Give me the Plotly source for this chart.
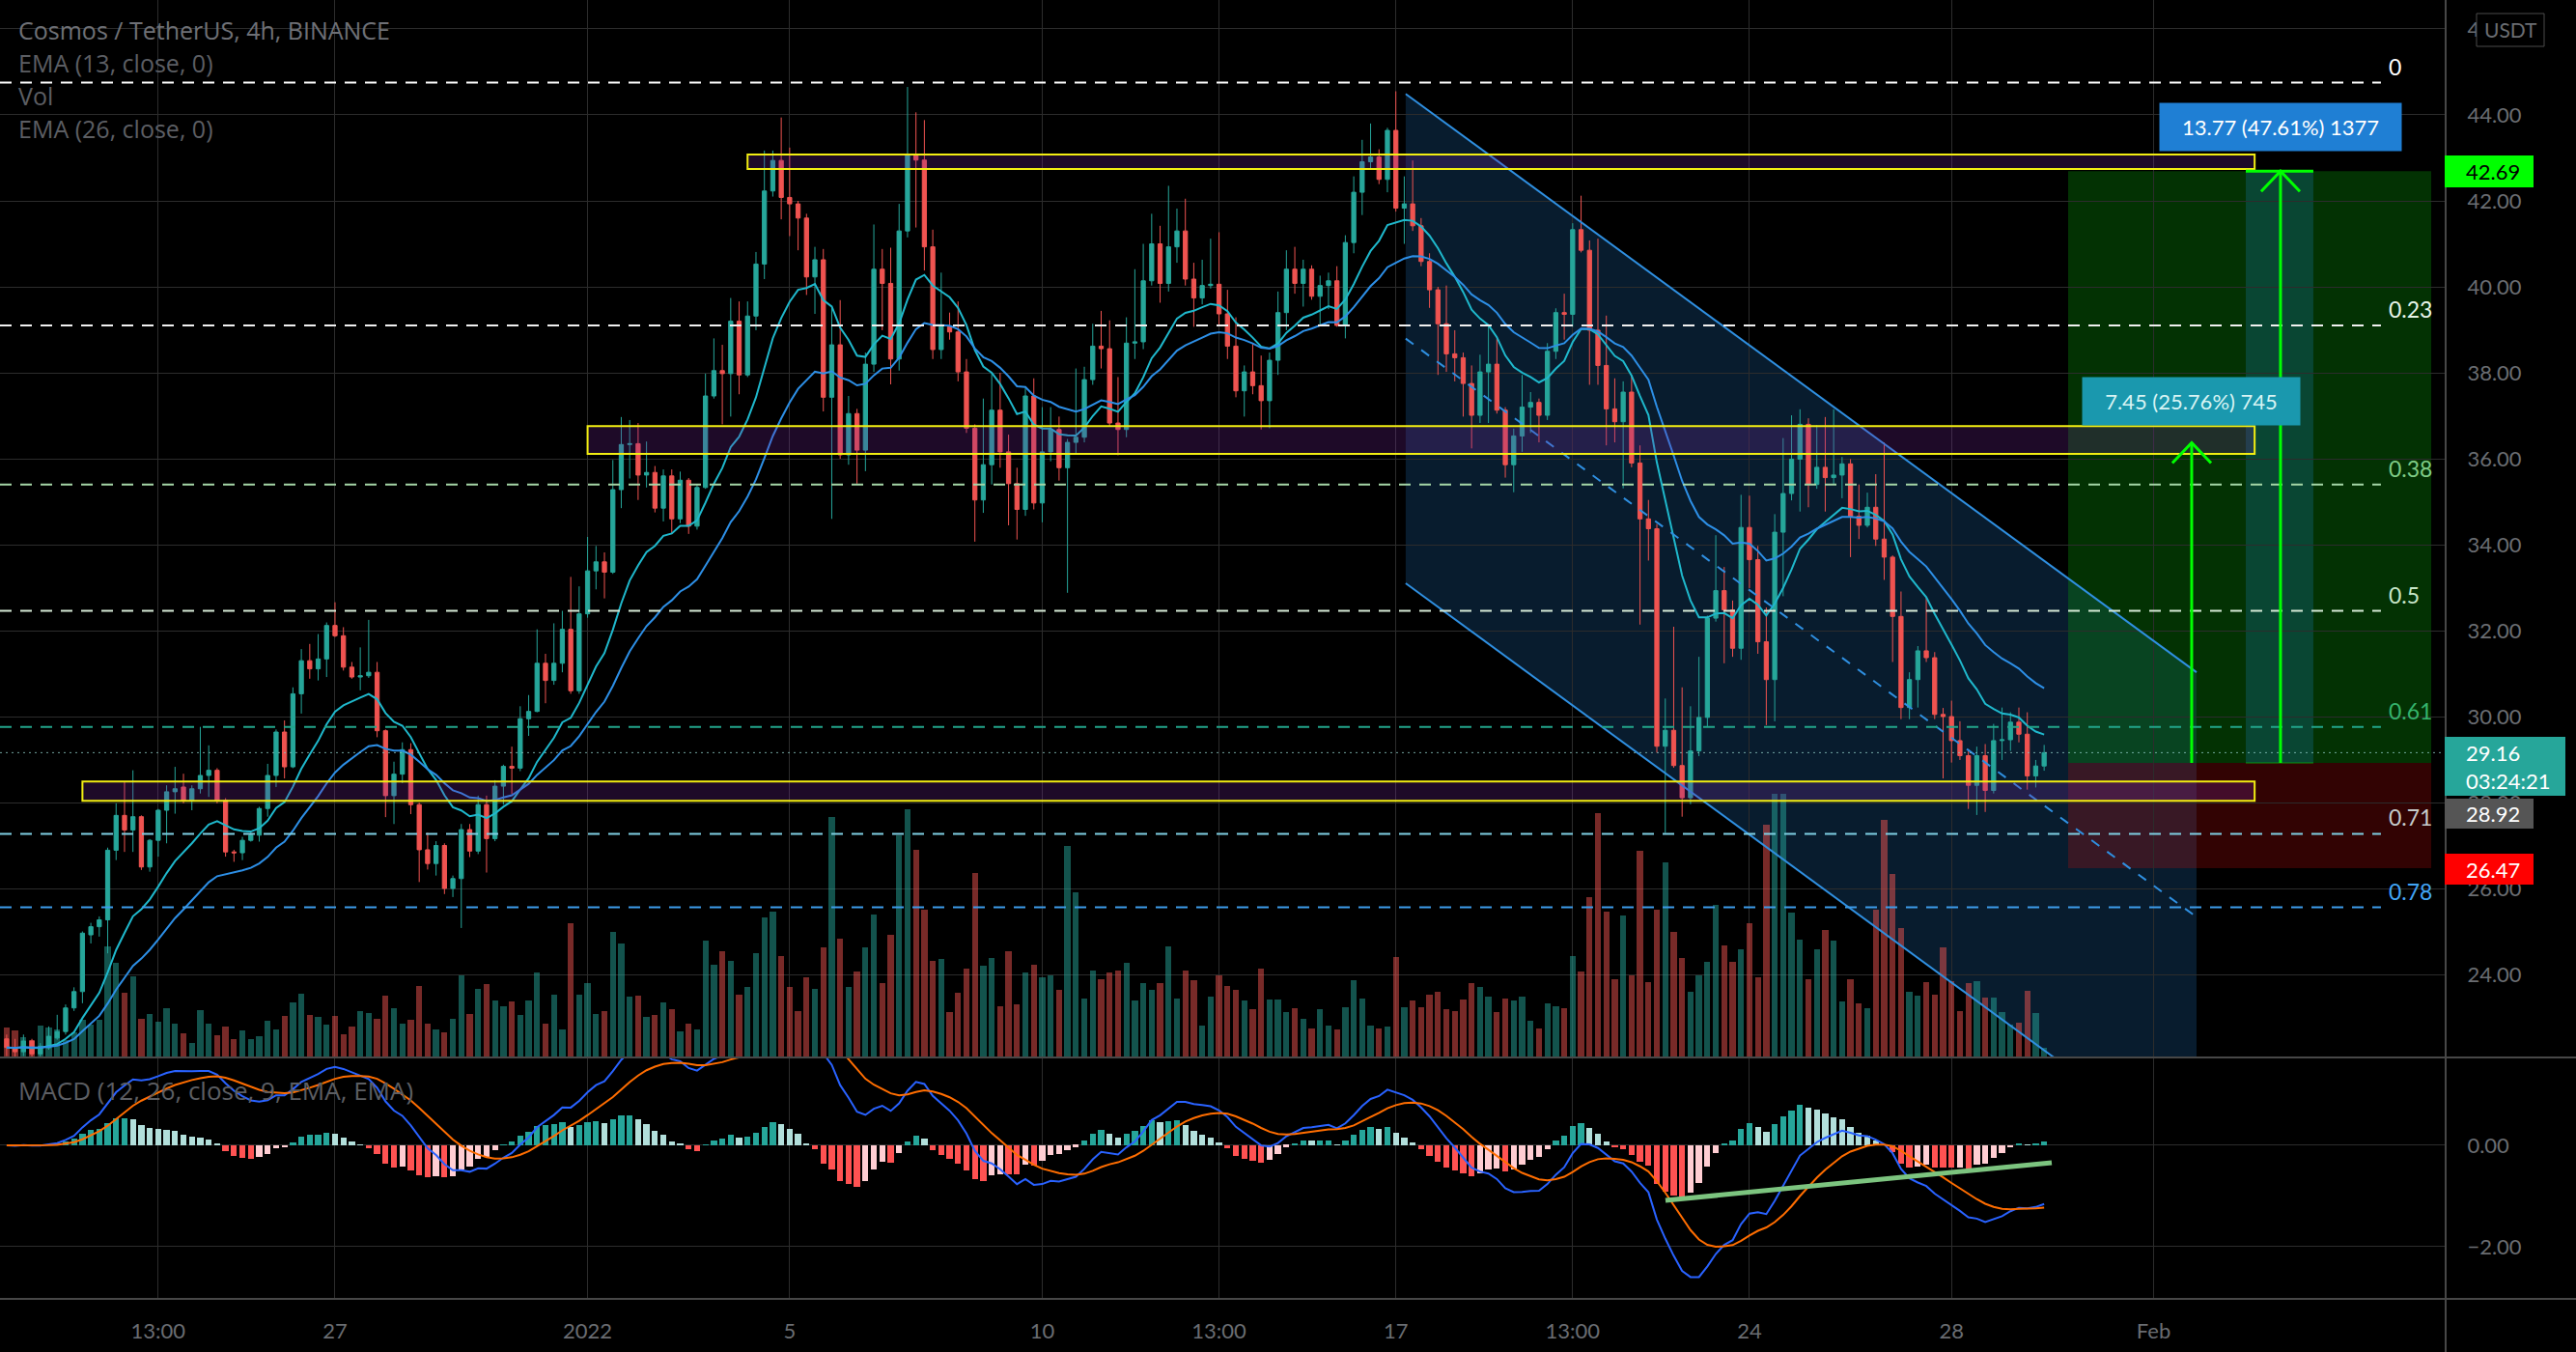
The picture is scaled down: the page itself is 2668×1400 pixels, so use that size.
import pandas as pd
import plotly.graph_objects as go

# ---------------- data (4h bars, UTC+1) ----------------
FIRST_BAR = "2021-12-20 13:00"

opens = [22.50, 22.30, 22.20, 22.45, 22.15, 22.29, 22.52, 22.67, 23.22, 23.60, 24.92, 25.11, 25.27, 26.89, 27.70, 27.36, 27.67, 26.50, 27.12, 27.82,
         28.25, 28.36, 28.05, 28.32, 28.63, 28.75, 28.05, 26.85, 26.83, 27.12, 27.24, 27.86, 28.63, 29.64, 28.83, 30.53, 31.30, 31.11, 31.34, 32.12,
         31.88, 31.15, 30.92, 30.95, 31.03, 29.67, 28.16, 28.66, 29.23, 27.95, 26.90, 26.58, 27.00, 26.00, 26.23, 27.37, 26.87, 27.95, 27.16, 28.38,
         28.84, 28.80, 29.95, 30.12, 31.24, 30.84, 31.24, 32.03, 30.60, 32.39, 33.39, 33.60, 33.36, 35.28, 36.33, 36.35, 35.62, 35.68, 34.85, 35.60,
         34.60, 35.50, 34.43, 35.33, 37.46, 38.05, 37.98, 39.20, 37.95, 39.32, 40.53, 42.23, 42.94, 42.08, 41.93, 41.60, 40.23, 40.63, 37.43, 38.65,
         36.09, 37.05, 36.20, 38.20, 40.41, 40.08, 38.32, 41.30, 43.06, 42.95, 40.93, 38.54, 39.07, 38.95, 38.02, 36.71, 35.04, 35.86, 37.13, 36.16,
         35.42, 34.82, 37.46, 34.97, 36.16, 36.68, 35.79, 36.38, 36.50, 37.84, 38.62, 38.56, 36.83, 36.68, 38.69, 38.72, 40.14, 41.00, 40.08, 40.93,
         41.30, 40.18, 39.74, 40.03, 40.06, 39.37, 38.62, 37.58, 38.02, 37.70, 37.35, 38.29, 39.40, 40.41, 40.08, 40.41, 39.78, 40.03, 40.14, 39.10,
         41.03, 42.20, 42.91, 43.02, 42.50, 43.64, 41.83, 41.93, 41.42, 40.59, 39.93, 39.14, 38.44, 38.35, 37.75, 37.01, 38.02, 38.20, 37.13, 35.86,
         36.53, 37.20, 37.31, 37.01, 38.50, 39.40, 39.36, 41.33, 40.85, 38.99, 38.17, 37.16, 36.86, 37.55, 35.90, 34.60, 34.37, 29.31, 29.68, 28.86,
         28.11, 29.20, 29.98, 32.29, 32.93, 32.48, 31.59, 34.40, 33.65, 31.74, 30.86, 34.29, 35.19, 35.99, 36.80, 35.40, 35.80, 35.56, 35.62, 35.88,
         34.66, 34.45, 34.87, 34.13, 33.71, 32.33, 30.21, 30.86, 31.53, 31.37, 30.05, 30.00, 29.44, 29.09, 28.40, 29.09, 28.28, 29.44, 29.46, 29.87,
         29.59, 28.62, 28.85]
highs = [22.60, 22.50, 22.60, 22.50, 22.40, 22.79, 23.06, 23.30, 23.70, 25.00, 25.20, 25.35, 26.95, 27.98, 28.48, 28.75, 27.70, 27.15, 27.85, 28.40,
         28.83, 28.67, 28.40, 29.76, 29.33, 28.80, 28.10, 26.90, 27.20, 27.30, 27.90, 28.90, 29.70, 29.91, 30.68, 31.57, 31.69, 31.92, 32.19, 32.66,
         32.08, 31.27, 31.61, 32.25, 31.27, 29.70, 28.95, 29.40, 29.38, 28.00, 27.30, 27.10, 27.05, 26.30, 27.50, 27.50, 28.16, 28.16, 28.52, 28.88,
         29.30, 30.24, 30.50, 32.03, 31.46, 32.17, 32.46, 33.25, 33.03, 34.18, 33.97, 33.82, 35.97, 36.97, 36.90, 36.83, 36.40, 35.83, 35.75, 35.75,
         35.70, 35.55, 35.40, 37.98, 38.80, 38.65, 39.74, 39.66, 39.66, 40.81, 43.17, 43.17, 43.94, 43.24, 42.00, 41.70, 40.93, 40.88, 39.51, 39.69,
         37.46, 37.16, 38.47, 41.45, 40.88, 40.91, 41.93, 44.65, 44.06, 43.88, 41.33, 40.33, 39.40, 39.66, 38.32, 36.80, 37.40, 38.00, 38.00, 36.56,
         35.79, 37.65, 37.87, 37.20, 37.20, 36.98, 36.46, 38.10, 38.14, 39.14, 39.44, 39.22, 37.90, 39.29, 40.41, 41.00, 41.70, 41.42, 42.35, 41.82,
         42.05, 40.56, 40.63, 41.12, 41.27, 39.93, 39.29, 38.17, 38.69, 38.40, 38.47, 39.89, 40.85, 40.93, 40.63, 40.50, 40.26, 40.33, 40.48, 41.20,
         42.57, 43.42, 43.80, 43.20, 43.70, 44.55, 42.57, 42.94, 41.60, 40.78, 40.00, 40.03, 38.99, 38.47, 38.17, 38.42, 39.10, 38.84, 37.20, 36.70,
         37.95, 37.55, 37.40, 38.69, 39.50, 39.84, 41.48, 42.12, 41.08, 41.12, 39.33, 37.87, 37.80, 37.95, 36.31, 35.04, 34.48, 30.42, 32.09, 30.68,
         30.24, 31.39, 32.35, 34.22, 33.48, 32.70, 35.16, 35.14, 33.97, 32.54, 34.71, 36.48, 37.01, 37.15, 36.94, 36.78, 36.97, 37.15, 36.04, 35.99,
         35.40, 35.21, 35.64, 36.38, 33.75, 32.91, 31.03, 31.64, 32.77, 31.50, 30.20, 30.37, 29.89, 29.20, 29.30, 29.36, 29.83, 30.21, 30.10, 30.21,
         30.10, 28.99, 29.34]
lows = [22.10, 22.00, 22.10, 22.00, 22.05, 22.25, 22.48, 22.60, 23.15, 23.33, 24.72, 24.88, 24.49, 26.66, 26.85, 26.85, 26.43, 26.39, 26.74, 27.05,
        27.74, 27.98, 27.82, 28.21, 28.13, 27.98, 26.74, 26.62, 26.66, 27.09, 27.09, 27.67, 28.36, 28.56, 28.80, 30.07, 30.88, 30.84, 30.92, 31.85,
        31.07, 30.88, 30.61, 30.90, 29.52, 27.66, 27.50, 28.45, 27.73, 26.15, 26.44, 26.30, 25.87, 25.80, 25.08, 26.73, 26.80, 26.37, 27.10, 27.95,
        28.20, 28.73, 29.55, 30.10, 30.31, 30.74, 31.03, 30.53, 30.53, 32.30, 32.96, 32.75, 33.32, 34.85, 35.54, 35.04, 35.33, 34.75, 34.54, 34.25,
        34.50, 34.25, 34.35, 35.30, 37.40, 36.80, 36.98, 37.50, 37.90, 38.99, 40.18, 42.10, 41.57, 41.18, 40.85, 39.81, 39.37, 37.10, 34.60, 36.00,
        35.86, 35.42, 35.71, 38.02, 38.99, 37.73, 38.05, 41.15, 41.38, 40.38, 38.32, 38.32, 38.77, 37.80, 36.60, 34.07, 34.74, 35.40, 35.79, 34.45,
        34.12, 34.67, 34.82, 34.52, 35.94, 35.49, 32.88, 36.09, 36.38, 37.72, 38.10, 36.76, 36.08, 36.50, 38.32, 38.55, 40.03, 39.63, 39.89, 40.56,
        40.03, 39.07, 39.59, 39.96, 39.10, 38.32, 37.43, 36.98, 37.50, 36.68, 36.71, 37.95, 38.99, 39.84, 39.54, 39.70, 39.10, 39.48, 39.07, 38.80,
        40.78, 41.67, 42.76, 42.39, 42.20, 41.75, 41.00, 41.30, 40.48, 39.51, 37.95, 38.02, 37.80, 36.98, 36.24, 36.83, 36.83, 37.05, 35.56, 35.22,
        36.16, 36.60, 36.38, 36.90, 38.32, 38.77, 39.07, 40.80, 37.72, 37.72, 36.31, 36.38, 35.31, 35.80, 32.14, 33.63, 29.16, 27.29, 28.81, 27.67,
        27.96, 29.08, 29.75, 32.21, 31.24, 31.39, 31.32, 32.99, 31.46, 29.80, 29.89, 32.80, 35.03, 34.77, 34.87, 35.30, 34.77, 35.40, 35.08, 33.71,
        34.13, 34.40, 33.97, 33.18, 31.27, 29.94, 29.94, 30.21, 31.27, 29.94, 28.56, 28.93, 28.99, 27.85, 27.71, 27.78, 28.21, 28.99, 29.20, 29.40,
        28.30, 28.35, 28.74]
closes = [22.30, 22.20, 22.45, 22.15, 22.33, 22.56, 22.67, 23.22, 23.60, 24.96, 25.11, 25.27, 26.89, 27.70, 27.36, 27.67, 26.50, 27.12, 27.82, 28.25,
          28.32, 28.05, 28.32, 28.63, 28.75, 28.05, 26.85, 26.83, 27.12, 27.24, 27.86, 28.63, 29.64, 28.83, 30.53, 31.30, 31.11, 31.34, 32.12, 31.88,
          31.15, 30.92, 30.95, 31.03, 29.67, 28.16, 28.66, 29.23, 27.95, 26.90, 26.58, 27.00, 26.00, 26.23, 27.37, 26.87, 27.95, 27.16, 28.38, 28.84,
          28.80, 29.95, 30.12, 31.24, 30.84, 31.24, 32.03, 30.60, 32.39, 33.39, 33.60, 33.36, 35.28, 36.33, 36.35, 35.62, 35.68, 34.85, 35.60, 34.60,
          35.50, 34.43, 35.33, 37.46, 38.05, 37.98, 39.20, 37.95, 39.32, 40.53, 42.23, 42.94, 42.08, 41.93, 41.60, 40.23, 40.63, 37.43, 38.65, 36.09,
          37.05, 36.20, 38.20, 40.41, 40.08, 38.32, 41.30, 43.06, 42.95, 40.93, 38.54, 39.07, 38.95, 38.02, 36.71, 35.04, 35.86, 37.13, 36.16, 35.42,
          34.82, 37.46, 34.97, 36.16, 36.68, 35.79, 36.38, 36.50, 37.84, 38.62, 38.56, 36.83, 36.68, 38.69, 38.72, 40.14, 41.00, 40.08, 40.93, 41.30,
          40.18, 39.74, 40.03, 40.06, 39.37, 38.62, 37.58, 38.02, 37.70, 37.35, 38.29, 39.40, 40.41, 40.08, 40.41, 39.78, 40.03, 40.14, 39.10, 41.03,
          42.20, 42.91, 43.02, 42.50, 43.64, 41.83, 41.93, 41.42, 40.59, 39.93, 39.14, 38.44, 38.35, 37.75, 37.01, 38.02, 38.20, 37.13, 35.86, 36.53,
          37.20, 37.31, 37.01, 38.50, 39.40, 39.36, 41.33, 40.85, 38.99, 38.17, 37.16, 36.86, 37.55, 35.90, 34.60, 34.37, 29.31, 29.68, 28.86, 28.11,
          29.20, 29.98, 32.29, 32.93, 32.48, 31.59, 34.40, 33.65, 31.74, 30.86, 34.29, 35.19, 35.99, 36.80, 35.40, 35.80, 35.56, 35.62, 35.88, 34.66,
          34.45, 34.87, 34.13, 33.71, 32.33, 30.21, 30.86, 31.53, 31.37, 30.05, 30.00, 29.44, 29.09, 28.40, 29.09, 28.28, 29.44, 29.46, 29.87, 29.59,
          28.62, 28.85, 29.16]
volumes_k = [30, 27, 20, 17, 32, 30, 28, 17, 25, 38, 33, 38, 114, 97, 66, 83, 39, 44, 36, 50,
             34, 24, 14, 48, 34, 22, 31, 18, 27, 18, 21, 37, 28, 42, 56, 65, 43, 41, 33, 42,
             23, 31, 47, 45, 39, 63, 50, 34, 38, 73, 34, 28, 25, 39, 84, 44, 70, 75, 58, 52,
             57, 43, 58, 87, 34, 64, 28, 138, 64, 76, 44, 47, 129, 117, 62, 63, 41, 43, 56, 49,
             26, 34, 28, 120, 95, 109, 99, 64, 72, 107, 144, 150, 104, 72, 47, 82, 70, 113, 248, 122,
             72, 88, 113, 147, 76, 126, 229, 256, 214, 152, 99, 101, 46, 66, 91, 190, 94, 102, 52, 109,
             54, 87, 95, 82, 84, 69, 218, 170, 60, 89, 80, 87, 89, 97, 58, 76, 69, 76, 114, 60,
             89, 79, 32, 62, 84, 73, 69, 58, 49, 91, 59, 59, 46, 50, 39, 29, 49, 32, 28, 51,
             79, 60, 32, 29, 31, 103, 51, 58, 51, 64, 67, 49, 47, 59, 76, 72, 62, 46, 60, 58,
             62, 37, 29, 55, 52, 50, 104, 88, 165, 252, 150, 80, 146, 84, 213, 77, 152, 201, 129, 102,
             67, 84, 98, 157, 115, 98, 111, 138, 82, 240, 272, 272, 149, 121, 80, 111, 131, 120, 57, 80,
             55, 50, 152, 245, 189, 133, 67, 63, 77, 64, 113, 78, 47, 76, 78, 61, 61, 46, 33, 35,
             68, 45, 9]

# axis ticks
TICK_TIMES = ["2021-12-23 13:00", "2021-12-27 01:00", "2022-01-01 01:00", "2022-01-05 01:00",
              "2022-01-10 01:00", "2022-01-13 13:00", "2022-01-17 01:00", "2022-01-20 13:00",
              "2022-01-24 01:00", "2022-01-28 01:00", "2022-02-01 01:00"]
TICK_TEXT = ["13:00", "27", "2022", "5", "10", "13:00", "17", "13:00", "24", "28", "Feb"]
PRICE_TICKS = [24, 26, 28, 30, 32, 34, 36, 38, 40, 42, 44, 46]
MACD_TICKS = [0, -2]
MACD_TICK_TEXT = ["0.00", "\u22122.00"]

# drawings
FIB_LABELS = ["0", "0.23", "0.38", "0.5", "0.61", "0.71", "0.78"]
FIB_PRICES = [44.75, 39.10, 35.40, 32.46, 29.76, 27.27, 25.56]
FIB_LINE_COLORS = ["#ffffff", "#f0f0f0", "#a5d6a7", "#d6ead6", "#22a58a", "#7fcfe3", "#3d9be9"]
FIB_TEXT_COLORS = ["#ffffff", "#e8f5e9", "#7fcb85", "#c8e6c9", "#35b46c", "#c6cccc", "#42a5f5"]
FIB_END = "2022-02-05 13:00"

ZONE_STARTS = ["2022-01-04 05:00", "2022-01-01 01:00", "2021-12-22 01:00"]
ZONE_END = "2022-02-03 01:00"
ZONE_LOWS = [42.74, 36.11, 28.04]
ZONE_HIGHS = [43.08, 36.76, 28.49]

CHANNEL_T = ["2022-01-17 05:40", "2022-02-01 21:24"]
CHANNEL_UPPER = [44.49, 31.03]
CHANNEL_WIDTH = 11.39

POS_T = ["2022-01-30 08:24", "2022-02-06 12:54"]
ENTRY, TARGET, STOP = 28.92, 42.69, 26.47
LAST_PRICE, COUNTDOWN = 29.16, "03:24:21"

RANGE1_T, RANGE1_TOP, RANGE1_TEXT = "2022-02-01 19:06", 36.37, "7.45 (25.76%) 745"
RANGE2_T, RANGE2_TOP, RANGE2_TEXT = "2022-02-03 13:18", 42.69, "13.77 (47.61%) 1377"
RANGE2_BAND = ["2022-02-02 20:48", "2022-02-04 04:54"]

MACD_TREND_T = ["2022-01-22 09:06", "2022-01-30 00:36"]
MACD_TREND_V = [-1.086, -0.343]

X_RANGE = ["2021-12-20 09:50", "2022-02-06 19:18"]
PRICE_RANGE = [22.090, 46.674]
MACD_RANGE = [-3.029, 1.714]
VOL_RANGE = [0, 1094]

# ---------------- derived ----------------
times = pd.date_range(FIRST_BAR, periods=len(closes), freq="4h")
cs = pd.Series(closes)
ema13 = cs.ewm(span=13, adjust=False).mean()
ema26 = cs.ewm(span=26, adjust=False).mean()
macd = cs.ewm(span=12, adjust=False).mean() - ema26
signal = macd.ewm(span=9, adjust=False).mean()
hist = macd - signal

UP, DN = "#26a69a", "#ef5350"
vol_colors = ["rgba(38,166,154,0.5)" if c >= o else "rgba(239,83,80,0.5)" for o, c in zip(opens, closes)]
hist_colors = []
prev = None
for h in hist:
    if h >= 0:
        hist_colors.append("#26a69a" if (prev is None or h > prev) else "#b2dfdb")
    else:
        hist_colors.append("#ffcdd2" if (prev is not None and h > prev) else "#ff5252")
    prev = h

BAR_W = 4 * 3600 * 1000 * 0.72
W, H = 2668, 1400
AXIS_X = 2532 / W
MAIN_DOM = [1 - 1094 / H, 1]
MACD_DOM = [1 - 1345 / H, 1 - 1096 / H]
FONT = "Lato"
GRID = "#2c2c2c"
TXT = "#6a6d72"

fig = go.Figure()
fig.add_trace(go.Bar(x=times, y=volumes_k, marker=dict(color=vol_colors, line=dict(width=0)),
                     width=BAR_W, xaxis="x", yaxis="y", hoverinfo="skip"))
fig.add_trace(go.Candlestick(x=times, open=opens, high=highs, low=lows, close=closes,
                             increasing=dict(line=dict(color=UP, width=1), fillcolor=UP),
                             decreasing=dict(line=dict(color=DN, width=1), fillcolor=DN),
                             whiskerwidth=0, xaxis="x", yaxis="y2"))
fig.add_trace(go.Scatter(x=times, y=ema13, mode="lines", line=dict(color="#1fb8cc", width=2),
                         xaxis="x", yaxis="y2", hoverinfo="skip"))
fig.add_trace(go.Scatter(x=times, y=ema26, mode="lines", line=dict(color="#2d8fe6", width=2),
                         xaxis="x", yaxis="y2", hoverinfo="skip"))
# MACD pane
fig.add_trace(go.Bar(x=times, y=hist, marker=dict(color=hist_colors, line=dict(width=0)),
                     width=BAR_W, xaxis="x2", yaxis="y3", hoverinfo="skip"))
fig.add_trace(go.Scatter(x=times, y=macd, mode="lines", line=dict(color="#2962ff", width=2),
                         xaxis="x2", yaxis="y3", hoverinfo="skip"))
fig.add_trace(go.Scatter(x=times, y=signal, mode="lines", line=dict(color="#ff6d00", width=2),
                         xaxis="x2", yaxis="y3", hoverinfo="skip"))

shapes = []
def pd_(t):
    return t.replace(" ", "_")
up0, up1 = CHANNEL_UPPER
lo0, lo1 = up0 - CHANNEL_WIDTH, up1 - CHANNEL_WIDTH
t0, t1 = CHANNEL_T
shapes.append(dict(type="path", xref="x", yref="y2", layer="below",
                   path=f"M {pd_(t0)},{up0} L {pd_(t1)},{up1} L {pd_(t1)},{lo1} L {pd_(t0)},{lo0} Z",
                   fillcolor="rgba(40,140,230,0.2)", line=dict(width=0)))
# position tool
shapes.append(dict(type="rect", xref="x", yref="y2", layer="below", x0=POS_T[0], x1=POS_T[1],
                   y0=ENTRY, y1=TARGET, fillcolor="rgba(8,153,8,0.33)", line=dict(width=0)))
shapes.append(dict(type="rect", xref="x", yref="y2", layer="below", x0=POS_T[0], x1=POS_T[1],
                   y0=STOP, y1=ENTRY, fillcolor="rgba(200,10,10,0.25)", line=dict(width=0)))
shapes.append(dict(type="rect", xref="x", yref="y2", layer="below", x0=RANGE2_BAND[0], x1=RANGE2_BAND[1],
                   y0=ENTRY, y1=RANGE2_TOP, fillcolor="rgba(33,150,243,0.2)", line=dict(width=0)))
# channel lines
shapes.append(dict(type="line", xref="x", yref="y2", x0=t0, x1=t1, y0=up0, y1=up1,
                   line=dict(color="#2f8fe0", width=2)))
shapes.append(dict(type="line", xref="x", yref="y2", x0=t0, x1=t1, y0=lo0, y1=lo1,
                   line=dict(color="#2f8fe0", width=2)))
shapes.append(dict(type="line", xref="x", yref="y2", x0=t0, x1=t1,
                   y0=(up0 + lo0) / 2, y1=(up1 + lo1) / 2,
                   line=dict(color="#2f8fe0", width=2, dash="10px,10px")))
# zones
for s0, lo, hi in zip(ZONE_STARTS, ZONE_LOWS, ZONE_HIGHS):
    shapes.append(dict(type="rect", xref="x", yref="y2", x0=s0, x1=ZONE_END, y0=lo, y1=hi,
                       fillcolor="rgba(120,40,160,0.25)", line=dict(color="#f2ee12", width=2)))
# fib lines
for p, col in zip(FIB_PRICES, FIB_LINE_COLORS):
    shapes.append(dict(type="line", xref="x", yref="y2", x0=X_RANGE[0], x1=FIB_END, y0=p, y1=p,
                       line=dict(color=col, width=2, dash="12px,9px")))
# last price dotted line
shapes.append(dict(type="line", xref="x", yref="y2", x0=X_RANGE[0], x1=X_RANGE[1], y0=LAST_PRICE, y1=LAST_PRICE,
                   line=dict(color="rgba(140,200,195,0.8)", width=1, dash="2px,4px")))
# range arrows
ARM_H = pd.Timedelta(hours=9.2)
ARM_P = 0.47
for tt, top in [(RANGE1_T, RANGE1_TOP), (RANGE2_T, RANGE2_TOP)]:
    tx = pd.Timestamp(tt)
    shapes.append(dict(type="line", xref="x", yref="y2", x0=tt, x1=tt, y0=ENTRY, y1=top,
                       line=dict(color="#00ff00", width=3)))
    shapes.append(dict(type="path", xref="x", yref="y2",
                       path=(f"M {pd_(str(tx - ARM_H))},{top - ARM_P} L {pd_(str(tx))},{top} "
                             f"L {pd_(str(tx + ARM_H))},{top - ARM_P}"),
                       line=dict(color="#00ff00", width=3)))
shapes.append(dict(type="line", xref="x", yref="y2", x0=RANGE2_BAND[0], x1=RANGE2_BAND[1],
                   y0=RANGE2_TOP, y1=RANGE2_TOP, line=dict(color="#00ff00", width=3)))
shapes.append(dict(type="line", xref="x", yref="y2", x0=RANGE2_BAND[0], x1=RANGE2_BAND[1],
                   y0=ENTRY, y1=ENTRY, line=dict(color="rgba(0,255,0,0.5)", width=1)))
# MACD trendline
shapes.append(dict(type="line", xref="x2", yref="y3", x0=MACD_TREND_T[0], x1=MACD_TREND_T[1],
                   y0=MACD_TREND_V[0], y1=MACD_TREND_V[1], line=dict(color="#7cc47f", width=5)))
# pane separators & axis line
for yy in [1 - 1095 / H, 1 - 1345 / H]:
    shapes.append(dict(type="line", xref="paper", yref="paper", x0=0, x1=1, y0=yy, y1=yy,
                       line=dict(color="#474747", width=2)))
shapes.append(dict(type="line", xref="paper", yref="paper", x0=2533 / W, x1=2533 / W, y0=0, y1=1,
                   line=dict(color="#474747", width=2)))

ann = []
def legend_text(text, y_px, size=25, color="#5c5e63"):
    ann.append(dict(xref="paper", yref="paper", x=17 / W, y=1 - y_px / H, xanchor="left", yanchor="middle",
                    text=text, showarrow=False, font=dict(family="Open Sans", size=size, color=color)))
legend_text("Cosmos / TetherUS, 4h, BINANCE", 31, color="#6e7076")
legend_text("EMA (13, close, 0)", 65)
legend_text("Vol", 99)
legend_text("EMA (26, close, 0)", 133)
legend_text("MACD (12, 26, close, 9, EMA, EMA)", 1129, size=26)

for lab, p, col in zip(FIB_LABELS, FIB_PRICES, FIB_TEXT_COLORS):
    ann.append(dict(xref="paper", yref="y2", x=2472 / W, y=p, xanchor="left", yanchor="bottom",
                    text=lab, showarrow=False, yshift=1, font=dict(family=FONT, size=23, color=col)))

# price-scale labels: background boxes (pixel rows in the price scale) + text
AXIS_BOX_TEXT = [f"{TARGET:.2f}", f"{LAST_PRICE:.2f}<br>{COUNTDOWN}", f"{ENTRY:.2f}", f"{STOP:.2f}"]
AXIS_BOX_ROWS = [(161, 194), (763, 824), (827, 858), (884, 916)]
AXIS_BOX_RIGHT = [2624, 2657, 2624, 2624]
AXIS_BOX_BG = ["#00ff00", "#26a69a", "#555555", "#ff0000"]
AXIS_BOX_FG = ["#000000", "#ffffff", "#ffffff", "#ffffff"]
for txt, (r0, r1), xr, bg, fg in zip(AXIS_BOX_TEXT, AXIS_BOX_ROWS, AXIS_BOX_RIGHT, AXIS_BOX_BG, AXIS_BOX_FG):
    shapes.append(dict(type="rect", xref="paper", yref="paper", x0=AXIS_X, x1=xr / W,
                       y0=1 - r1 / H, y1=1 - r0 / H, fillcolor=bg, line=dict(width=0), layer="above"))
    ann.append(dict(xref="paper", yref="paper", x=2552 / W, y=1 - (r0 + r1) / 2 / H, xanchor="left",
                    yanchor="middle", text=txt, showarrow=False, align="left",
                    font=dict(family=FONT, size=22, color=fg)))
# currency box
shapes.append(dict(type="rect", xref="paper", yref="paper", x0=2565 / W, x1=2635 / W,
                   y0=1 - 48 / H, y1=1 - 14 / H, fillcolor="#000000",
                   line=dict(color="#4a4a4a", width=1), layer="above"))
ann.append(dict(xref="paper", yref="paper", x=2600 / W, y=1 - 31 / H, xanchor="center", yanchor="middle",
                text="USDT", showarrow=False, font=dict(family=FONT, size=21, color=TXT)))

ann.append(dict(xref="x", yref="y2", x=RANGE2_T, y=RANGE2_TOP, xanchor="center", yanchor="bottom",
                yshift=20, text=RANGE2_TEXT, showarrow=False, bgcolor="#1f7fd4", borderpad=7,
                width=236, height=35, font=dict(family=FONT, size=22, color="#ffffff")))
ann.append(dict(xref="x", yref="y2", x=RANGE1_T, y=RANGE1_TOP, xanchor="center", yanchor="bottom",
                yshift=18, text=RANGE1_TEXT, showarrow=False, bgcolor="#1a98ae", borderpad=7,
                width=211, height=35, font=dict(family=FONT, size=22, color="#d8f4f4")))

fig.update_layout(
    width=W, height=H, margin=dict(l=0, r=0, t=0, b=0),
    paper_bgcolor="#000000", plot_bgcolor="#000000", showlegend=False,
    font=dict(family=FONT, color=TXT), bargap=0,
    shapes=shapes, annotations=ann,
    xaxis=dict(domain=[0, AXIS_X], anchor="y", type="date", range=X_RANGE, showticklabels=False,
               tickvals=TICK_TIMES, showgrid=True, gridcolor=GRID, gridwidth=1, zeroline=False,
               showline=False, rangeslider=dict(visible=False), fixedrange=True),
    xaxis2=dict(domain=[0, AXIS_X], anchor="y3", type="date", range=X_RANGE, matches="x",
                tickvals=TICK_TIMES, ticktext=TICK_TEXT, showgrid=True, gridcolor=GRID, zeroline=False,
                showline=False, ticks="outside", ticklen=14, tickcolor="rgba(0,0,0,0)",
                tickfont=dict(family=FONT, size=22, color=TXT)),
    yaxis=dict(domain=MAIN_DOM, anchor="x", range=VOL_RANGE, visible=False, showgrid=False),
    yaxis2=dict(overlaying="y", anchor="x", side="right", range=PRICE_RANGE, tickvals=PRICE_TICKS,
                ticktext=[f"{v:.2f}" for v in PRICE_TICKS], showgrid=True, gridcolor=GRID,
                zeroline=False, showline=False, ticks="outside", ticklen=18, tickcolor="rgba(0,0,0,0)",
                tickfont=dict(family=FONT, size=22, color=TXT)),
    yaxis3=dict(domain=MACD_DOM, anchor="x2", side="right", range=MACD_RANGE, tickvals=MACD_TICKS,
                ticktext=MACD_TICK_TEXT, showgrid=True, gridcolor=GRID, zeroline=False, showline=False,
                ticks="outside", ticklen=18, tickcolor="rgba(0,0,0,0)",
                tickfont=dict(family=FONT, size=22, color=TXT)),
)

fig.write_html("out.html")
